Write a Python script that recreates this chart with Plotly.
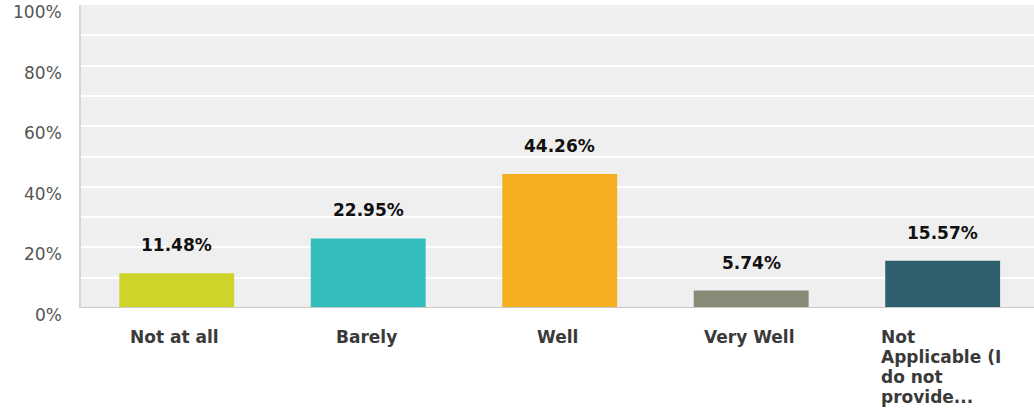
import plotly.graph_objects as go

# Survey answers and their share of respondents (%)
categories = ["Not at all", "Barely", "Well", "Very Well",
              "Not<br>Applicable (I<br>do not<br>provide..."]
values = [11.48, 22.95, 44.26, 5.74, 15.57]
bar_colors = ["#cfd42a", "#33bdbd", "#f5ae20", "#888a78", "#2e5f6d"]
y_tick_values = [0, 20, 40, 60, 80, 100]
y_tick_labels = ["0%", "20%", "40%", "60%", "80%", "100%"]

FONT = "DejaVu Sans"
LINE_STEP = 20  # px between wrapped label lines
x_pos = list(range(len(categories)))

fig = go.Figure(
    go.Bar(
        x=x_pos,
        y=values,
        width=0.6,
        marker=dict(color=bar_colors, line=dict(width=0)),
        hoverinfo="skip",
    )
)

annotations = []

# value labels above each bar
for i, v in enumerate(values):
    annotations.append(dict(
        x=i, y=v, xref="x", yref="y",
        text=f"<b>{v:.2f}%</b>",
        showarrow=False, yanchor="middle", xanchor="center", yshift=28,
        font=dict(family=FONT, size=17, color="#111111"),
    ))

# category labels under the axis; wrapped labels are left-aligned in a
# block centred under the bar
for i, c in enumerate(categories):
    lines = c.split("<br>")
    for k, line in enumerate(lines):
        wrapped = len(lines) > 1
        annotations.append(dict(
            x=i, y=0, xref="x", yref="paper",
            text=f"<b>{line}</b>",
            showarrow=False, yanchor="middle",
            xanchor="left" if wrapped else "center",
            xshift=-64 if wrapped else -2,
            yshift=-29 - LINE_STEP * k,
            font=dict(family=FONT, size=17, color="#3a3a3a"),
        ))

# y tick labels
for tv, tl in zip(y_tick_values, y_tick_labels):
    annotations.append(dict(
        x=0, y=tv, xref="paper", yref="y",
        text=tl,
        showarrow=False, yanchor="middle", xanchor="right",
        xshift=-17, yshift=-7,
        font=dict(family=FONT, size=17, color="#555555"),
    ))

fig.update_layout(
    width=1034, height=408,
    margin=dict(l=81, r=0, t=5, b=100),
    paper_bgcolor="white",
    plot_bgcolor="#efefef",
    showlegend=False,
    bargap=0.4,
    annotations=annotations,
    xaxis=dict(
        range=[-0.5, 4.477], showticklabels=False, showgrid=False,
        zeroline=False, showline=False, fixedrange=True,
    ),
    yaxis=dict(
        range=[0, 100], dtick=10, showticklabels=False,
        showgrid=True, gridcolor="#ffffff", gridwidth=2,
        zeroline=False, showline=True, linecolor="#d6d6d6", linewidth=2,
        mirror=False, fixedrange=True,
    ),
)

# baseline along 0%
fig.add_shape(type="line", xref="paper", yref="y", x0=0, x1=1, y0=0, y1=0,
              line=dict(color="#c8c8c8", width=2))

fig.write_html("out.html", config={"displayModeBar": False})
